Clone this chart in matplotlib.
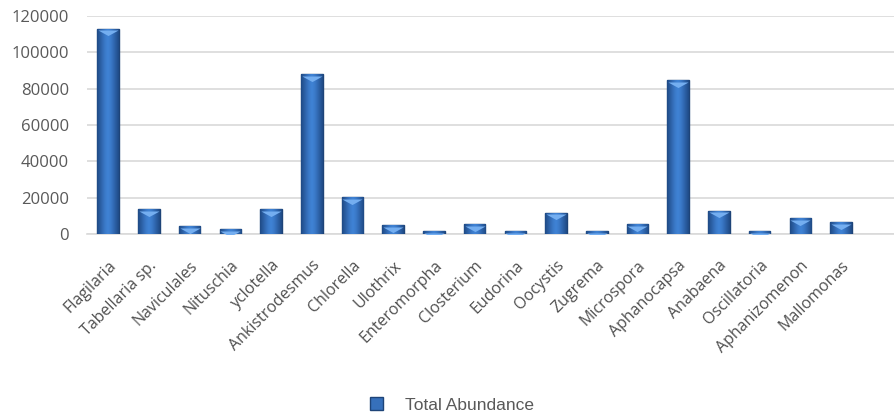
import matplotlib
matplotlib.use('Agg')
import matplotlib.pyplot as plt
import matplotlib.transforms as mtransforms
import numpy as np

# data
species = ['Flagilaria', 'Tabellaria sp.', 'Naviculales', 'Nituschia', 'yclotella',
           'Ankistrodesmus', 'Chlorella', 'Ulothrix', 'Enteromorpha', 'Closterium',
           'Eudorina', 'Oocystis', 'Zugrema', 'Microspora', 'Aphanocapsa',
           'Anabaena', 'Oscillatoria', 'Aphanizomenon', 'Mallomonas']
abundance = [113000, 13600, 4200, 2600, 13600,
             88000, 20200, 4800, 1500, 5300,
             1500, 11600, 1600, 5300, 84700,
             12700, 1600, 8600, 6600]
yticks = [0, 20000, 40000, 60000, 80000, 100000, 120000]

W, H = 894, 417
fig = plt.figure(figsize=(W / 100, H / 100), dpi=100)
ax = fig.add_axes([87 / W, 1 - 234 / H, (W - 87) / W, (234 - 16) / H])

x = np.arange(len(species))
bw = 0.53
bars = ax.bar(x, abundance, width=bw, color='#3670bb', edgecolor='#1e4478',
              linewidth=1.0, zorder=3, label='Total Abundance')

# horizontal shading inside each bar (darker sides, lighter middle)
grad = np.abs(np.linspace(-1, 1, 64)) ** 1.5
grad = grad[np.newaxis, :]
cmap = matplotlib.colors.LinearSegmentedColormap.from_list(
    'bev', ['#3f82d4', '#2d62a8', '#1f4a85'])
for b in bars:
    im = ax.imshow(grad, cmap=cmap, aspect='auto', zorder=3.5,
                   extent=[b.get_x(), b.get_x() + b.get_width(), 0, b.get_height()])
    im.set_clip_path(b)

# light bevel triangle on top of every bar
shift = mtransforms.ScaledTranslation(0, -1.5 / 100, fig.dpi_scale_trans)
tri = [(-1, 0), (1, 0), (0, -0.55)]
ax.plot(x, abundance, linestyle='none', marker=tri, markersize=14.5,
        markerfacecolor='#74aef0', markeredgecolor='none',
        transform=ax.transData + shift, zorder=4)

ax.set_xlim(-0.52, 19.3)
ax.set_ylim(0, 120000)
ax.set_yticks(yticks)
ax.set_yticklabels([str(v) for v in yticks], fontfamily='Open Sans',
                   fontsize=12, color='#595959')
ax.tick_params(axis='y', length=0, pad=13)
ax.yaxis.grid(True, color='#d9d9d9', linewidth=1.2, zorder=0)
ax.set_axisbelow(True)

ax.set_xticks(x)
ax.set_xticklabels(species, rotation=45, ha='right', va='top',
                   rotation_mode='anchor', fontfamily='Open Sans',
                   fontsize=11.5, color='#505050')
ax.tick_params(axis='x', length=0, pad=17)

for side in ['top', 'right', 'left']:
    ax.spines[side].set_visible(False)
ax.spines['bottom'].set_color('#d9d9d9')
ax.spines['bottom'].set_linewidth(1.2)

leg = fig.legend(loc='center', bbox_to_anchor=(452 / W, 1 - 405 / H),
                 frameon=False, handlelength=0.75, handleheight=0.75,
                 handletextpad=1.3,
                 prop={'family': 'Liberation Sans', 'size': 12.5})
for t in leg.get_texts():
    t.set_color('#595959')

fig.savefig('out.png', dpi=100)
